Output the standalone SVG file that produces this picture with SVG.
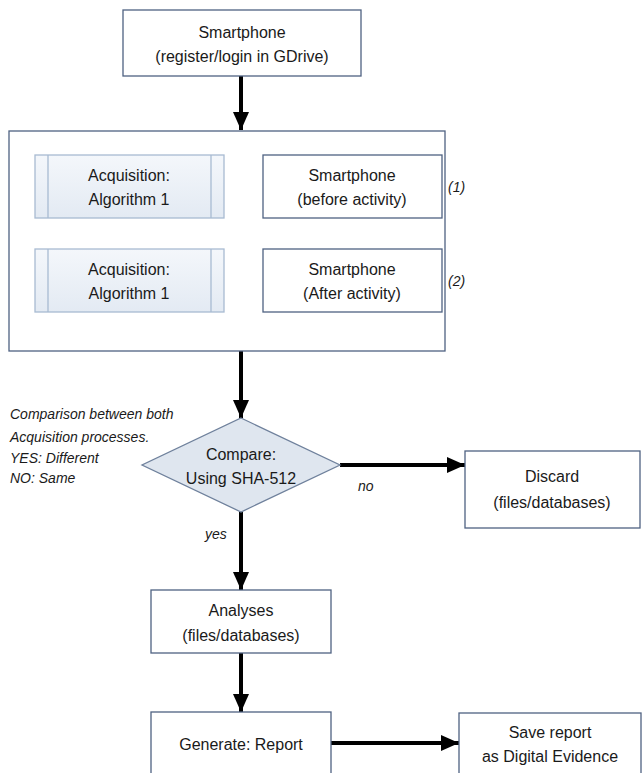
<svg xmlns="http://www.w3.org/2000/svg" width="642" height="773" viewBox="0 0 642 773">
<style>
.box{fill:#ffffff;stroke:#4f6282;stroke-width:1.3}
.acq{fill:url(#g);stroke:#a8bbd2;stroke-width:1.3}
.in{stroke:#a8bbd2;stroke-width:1.3}
.t{font-family:"Liberation Sans",Arial,sans-serif;font-size:16px;fill:#1a1a1a;text-anchor:middle}
.n{font-family:"Liberation Sans",Arial,sans-serif;font-size:14px;font-style:italic;fill:#1a1a1a}
.c{stroke:#000;stroke-width:4;fill:none;marker-end:url(#ah)}
</style>
<defs>
<linearGradient id="g" x1="0" y1="0" x2="0" y2="1">
<stop offset="0" stop-color="#f4f7fb"/>
<stop offset="1" stop-color="#e3eaf3"/>
</linearGradient>
<marker id="ah" markerUnits="userSpaceOnUse" markerWidth="18" markerHeight="18" viewBox="0 0 18 18" refX="18" refY="9" orient="auto">
<path d="M0,1 L18,9 L0,17 Z" fill="#000"/>
</marker>
</defs>
<rect width="642" height="773" fill="#fff"/>
<g id="connectors">
<line class="c" x1="241" y1="76" x2="241" y2="130"/>
<line class="c" x1="263" y1="186" x2="225" y2="186"/>
<line class="c" x1="263" y1="280" x2="225" y2="280"/>
<line class="c" x1="241" y1="351" x2="241" y2="418"/>
<line class="c" x1="340" y1="465" x2="465" y2="465"/>
<line class="c" x1="241" y1="512" x2="241" y2="590"/>
<line class="c" x1="241" y1="653" x2="241" y2="712"/>
<line class="c" x1="331" y1="743" x2="459" y2="743"/>
<text class="n" x="358" y="491">no</text>
<text class="n" x="205" y="539">yes</text>
</g>
<g id="top">
<rect class="box" x="123" y="10" width="238" height="66"/>
<text class="t" x="242" y="38">Smartphone</text>
<text class="t" x="242" y="62">(register/login in GDrive)</text>
</g>
<g id="container">
<rect class="box" x="9" y="131" width="436" height="220"/>
</g>
<g id="acq1">
<rect class="acq" x="35" y="155" width="189" height="63"/>
<line class="in" x1="48" y1="155" x2="48" y2="218"/>
<line class="in" x1="211" y1="155" x2="211" y2="218"/>
<text class="t" x="129" y="181">Acquisition:</text>
<text class="t" x="129" y="205">Algorithm 1</text>
</g>
<g id="phone1">
<rect class="box" x="263" y="155" width="179" height="63"/>
<text class="t" x="352" y="181">Smartphone</text>
<text class="t" x="352" y="205">(before activity)</text>
<text class="n" x="448" y="192">(1)</text>
</g>
<g id="acq2">
<rect class="acq" x="35" y="249" width="189" height="63"/>
<line class="in" x1="48" y1="249" x2="48" y2="312"/>
<line class="in" x1="211" y1="249" x2="211" y2="312"/>
<text class="t" x="129" y="275">Acquisition:</text>
<text class="t" x="129" y="299">Algorithm 1</text>
</g>
<g id="phone2">
<rect class="box" x="263" y="249" width="179" height="63"/>
<text class="t" x="352" y="275">Smartphone</text>
<text class="t" x="352" y="299">(After activity)</text>
<text class="n" x="448" y="286">(2)</text>
</g>
<g id="note">
<text class="n" x="10" y="419">Comparison between both</text>
<text class="n" x="10" y="442">Acquisition processes.</text>
<text class="n" x="10" y="463">YES: Different</text>
<text class="n" x="10" y="483">NO: Same</text>
</g>
<g id="compare">
<polygon points="241,418 340,465 241,512 142,465" fill="#dfe6ef" stroke="#6f819c" stroke-width="1.3"/>
<text class="t" x="241" y="460">Compare:</text>
<text class="t" x="241" y="484">Using SHA-512</text>
</g>
<g id="discard">
<rect class="box" x="465" y="451" width="175" height="77"/>
<text class="t" x="552" y="482">Discard</text>
<text class="t" x="552" y="508">(files/databases)</text>
</g>
<g id="analyses">
<rect class="box" x="151" y="590" width="180" height="63"/>
<text class="t" x="241" y="616">Analyses</text>
<text class="t" x="241" y="641">(files/databases)</text>
</g>
<g id="generate">
<rect class="box" x="151" y="712" width="180" height="70"/>
<text class="t" x="241" y="750">Generate: Report</text>
</g>
<g id="save">
<rect class="box" x="459" y="713" width="182" height="70"/>
<text class="t" x="550" y="738">Save report</text>
<text class="t" x="550" y="762">as Digital Evidence</text>
</g>
</svg>
